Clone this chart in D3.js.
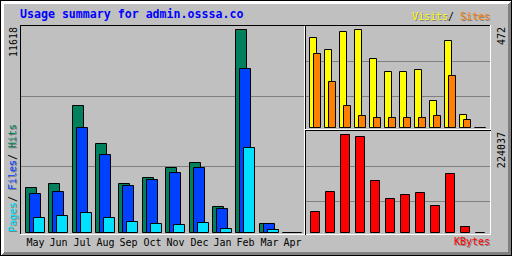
<!DOCTYPE html>
<html>
<head>
<meta charset="utf-8">
<script src="https://cdnjs.cloudflare.com/ajax/libs/d3/7.8.5/d3.min.js"></script>
<style>
  html, body { margin: 0; padding: 0; background: #c0c0c0; }
  svg { display: block; }
  text { font-family: "DejaVu Sans Mono", "Liberation Mono", monospace; }
</style>
</head>
<body>
<div class="container"></div>
<script>
let width = 512
let height = 256

// monthly usage summary
let months = ["May", "Jun", "Jul", "Aug", "Sep", "Oct", "Nov", "Dec", "Jan", "Feb", "Mar", "Apr"]
let hits   = [2558, 2787, 7251, 5076, 2787, 3131, 3703, 3989, 1471, 11618, 498, 0]
let files  = [2215, 2329, 5992, 4447, 2673, 3016, 3417, 3703, 1356, 9369, 498, 0]
let pages  = [841, 956, 1127, 841, 612, 498, 441, 555, 212, 4865, 155, 0]
let visits = [432, 374, 461, 472, 331, 268, 268, 278, 129, 418, 61, 0]
let sites  = [355, 220, 105, 56, 47, 47, 47, 47, 56, 249, 37, 0]
let kbytes = [48008, 93730, 224037, 219465, 118877, 77727, 86871, 91444, 61725, 134880, 13716, 0]

let title = "Usage summary for admin.osssa.co"

let grey = "#c0c0c0", dkgrey = "#808080", white = "#ffffff", black = "#000000"
let hitColor = "#00805c", fileColor = "#0040ff", pageColor = "#00e0ff"
let visitColor = "#ffff00", siteColor = "#ff8000", kbyteColor = "#ff0000"

let svg = d3.select(".container")
  .append("svg")
  .attr("width", width)
  .attr("height", height)

svg.append("rect")
  .attr("width", width)
  .attr("height", height)
  .attr("fill", grey)

function line(x1, y1, x2, y2, color) {
  svg.append("line")
    .attr("x1", x1 + 0.5).attr("y1", y1 + 0.5)
    .attr("x2", x2 + 0.5).attr("y2", y2 + 0.5)
    .attr("stroke", color)
    .attr("stroke-width", 1)
    .attr("stroke-linecap", "square")
}

// 3d border
for (let i = 0; i < 4; i++) {
  line(i, i, width - 1 - i, i, white)
  line(i, i, i, height - 1 - i, white)
  line(i + 1, height - 1 - i, width - 1 - i, height - 1 - i, dkgrey)
  line(width - 1 - i, i + 1, width - 1 - i, height - 1 - i, dkgrey)
}
svg.append("rect")
  .attr("x", 0.5).attr("y", 0.5)
  .attr("width", width - 1).attr("height", height - 1)
  .attr("fill", "none").attr("stroke", black)

// index lines
line(21, 96, 303, 96, dkgrey)
line(21, 166, 303, 166, dkgrey)
line(306, 61, 489, 61, dkgrey)
line(306, 96, 489, 96, dkgrey)
line(306, 166, 489, 166, dkgrey)
line(306, 201, 489, 201, dkgrey)

// panel frames
line(20, 25, 490, 25, black)
line(20, 25, 20, 234, black)
line(20, 234, 490, 234, white)
line(490, 25, 490, 234, white)
line(304, 26, 304, 234, white)
line(305, 25, 305, 234, black)
line(305, 129, 490, 129, white)
line(305, 130, 490, 130, black)

// scales
let x = d3.scaleBand().domain(months).range([25, 25 + 12 * 23.37])
let yMain = d3.scaleLinear().domain([0, 11618]).range([232, 29])
let xSide = d3.scaleBand().domain(months).range([309, 309 + 12 * 15])
let yVisit = d3.scaleLinear().domain([0, 472]).range([127, 29])
let yKb = d3.scaleLinear().domain([0, 224037]).range([232, 134])

// bars as closed paths so a zero value still shows as a flat line
function bars(values, xs, offset, w, ys, base, color) {
  svg.append("g")
    .selectAll("path")
    .data(values)
    .enter()
    .append("path")
    .attr("d", function (d, i) {
      let x0 = Math.round(xs(months[i])) + offset + 0.5
      let y0 = Math.round(ys(d)) + 0.5
      let h = base - Math.round(ys(d))
      return "M" + x0 + "," + y0 + "h" + w + "v" + h + "h" + (-w) + "Z"
    })
    .attr("fill", color)
    .attr("stroke", black)
    .attr("stroke-width", 1)
}

bars(hits, x, 0, 11, yMain, 232, hitColor)
bars(files, x, 4, 11, yMain, 232, fileColor)
bars(pages, x, 8, 11, yMain, 232, pageColor)
bars(visits, xSide, 0, 7, yVisit, 127, visitColor)
bars(sites, xSide, 4, 7, yVisit, 127, siteColor)
bars(kbytes, xSide, 1, 9, yKb, 232, kbyteColor)

// text helpers
function label(px, py, str, color, opts) {
  opts = opts || {}
  let rot = opts.rotate ? " rotate(-90)" : ""
  if (opts.shadow) {
    svg.append("text")
      .attr("transform", "translate(" + (px + 1) + "," + (py + 1) + ")" + rot)
      .attr("text-anchor", opts.anchor || "start")
      .attr("font-size", opts.size || "10px")
      .attr("font-weight", opts.weight || "normal")
      .attr("fill", dkgrey)
      .text(str)
  }
  svg.append("text")
    .attr("transform", "translate(" + px + "," + py + ")" + rot)
    .attr("text-anchor", opts.anchor || "start")
    .attr("font-size", opts.size || "10px")
    .attr("font-weight", opts.weight || "normal")
    .attr("fill", color)
    .text(str)
}

label(20, 18, title, "#0000ff", {size: "11.6px", weight: "bold"})

// month labels
months.forEach(function (m) {
  label(Math.round(x(m)) + 10.5, 245.5, m, black, {anchor: "middle"})
})

// max values
label(17, 27, d3.max(hits), black, {rotate: true, anchor: "end"})
label(505, 27, d3.max(visits), black, {rotate: true, anchor: "end"})
label(505, 132, d3.max(kbytes), black, {rotate: true, anchor: "end"})

// legends
label(16, 232, "Pages", pageColor, {rotate: true, shadow: true})
label(16, 202, "/", black, {rotate: true})
label(16, 190, "Files", fileColor, {rotate: true, shadow: true})
label(16, 160, "/", black, {rotate: true})
label(16, 148, "Hits", hitColor, {rotate: true, shadow: true})

label(412, 20, "Visits", visitColor, {shadow: true})
label(448, 20, "/", black)
label(460, 20, "Sites", siteColor, {shadow: true})
label(454, 245, "KBytes", kbyteColor, {shadow: true})
</script>
</body>
</html>
